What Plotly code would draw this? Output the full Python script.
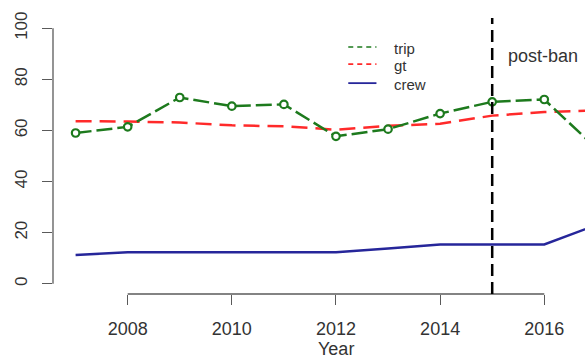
import plotly.graph_objects as go

# Yearly series
years = [2007, 2008, 2009, 2010, 2011, 2012, 2013, 2014, 2015, 2016, 2017]
trip = [59.0, 61.4, 72.9, 69.5, 70.2, 57.7, 60.5, 66.6, 71.2, 72.1, 53.0]
gt = [63.6, 63.5, 63.1, 62.0, 61.6, 60.3, 61.8, 62.6, 65.8, 67.2, 67.8]
crew = [11.3, 12.3, 12.3, 12.3, 12.3, 12.3, 13.8, 15.4, 15.4, 15.4, 23.0]

ban_year = 2015
x_ticks = [2008, 2010, 2012, 2014, 2016]
y_ticks = [0, 20, 40, 60, 80, 100]

GREEN = "#1d7a1d"
RED = "#ff2a2a"
BLUE = "#26269a"
AXIS = "#5a5a5a"
TEXT = "#333333"
FONT = "Liberation Sans, Arial, sans-serif"

fig = go.Figure()

fig.add_trace(go.Scatter(
    x=years, y=gt, mode="lines",
    line=dict(color=RED, width=2.5, dash="16px,8px"),
    showlegend=False, cliponaxis=True))

fig.add_trace(go.Scatter(
    x=years, y=crew, mode="lines",
    line=dict(color=BLUE, width=2.5),
    showlegend=False, cliponaxis=True))

fig.add_trace(go.Scatter(
    x=years, y=trip, mode="lines+markers",
    line=dict(color=GREEN, width=2.5, dash="16px,5px"),
    marker=dict(symbol="circle", size=7.5, color="white",
                line=dict(color=GREEN, width=2.2)),
    showlegend=False, cliponaxis=True))

# R-style axis lines spanning only the tick range
shapes = [
    dict(type="line", xref="x", yref="paper", x0=x_ticks[0], x1=x_ticks[-1],
         y0=0, y1=0, line=dict(color=AXIS, width=1.3)),
    dict(type="line", xref="paper", yref="y", x0=0, x1=0,
         y0=y_ticks[0], y1=y_ticks[-1], line=dict(color=AXIS, width=1.3)),
    # ban marker
    dict(type="line", xref="x", yref="paper", x0=ban_year, x1=ban_year,
         y0=0, y1=1, line=dict(color="black", width=2.5, dash="12px,6px")),
]

# Legend box drawn by hand
legend_items = [("trip", GREEN, "5px,4px", 1.6), ("gt", RED, "5px,4px", 1.6),
                ("crew", BLUE, "solid", 1.8)]
leg_line_y = [0.895, 0.833, 0.764]
leg_text_y = [0.890, 0.828, 0.759]
annotations = []
for (name, col, dash, w), ly, ty in zip(legend_items, leg_line_y, leg_text_y):
    shapes.append(dict(type="line", xref="paper", yref="paper",
                       x0=0.555, x1=0.608, y0=ly, y1=ly,
                       line=dict(color=col, width=w, dash=dash)))
    annotations.append(dict(xref="paper", yref="paper", x=0.637, y=ty,
                            text=name, showarrow=False, xanchor="left",
                            yanchor="middle",
                            font=dict(family=FONT, size=15, color=TEXT)))

annotations.append(dict(xref="x", yref="y", x=ban_year, y=89, xshift=14,
                        text="post-ban", showarrow=False, xanchor="left",
                        yanchor="middle",
                        font=dict(family=FONT, size=18, color=TEXT)))
annotations.append(dict(xref="paper", yref="paper", x=0.532, y=-0.201,
                        text="Year", showarrow=False, xanchor="center",
                        yanchor="middle",
                        font=dict(family=FONT, size=18, color=TEXT)))

fig.update_layout(
    width=585, height=360,
    margin=dict(l=53, r=0, t=18, b=66),
    paper_bgcolor="white", plot_bgcolor="white",
    showlegend=False,
    shapes=shapes, annotations=annotations,
    xaxis=dict(range=[2006.566, 2016.782], tickvals=x_ticks,
               ticks="outside", ticklen=10, tickwidth=1.3, tickcolor=AXIS,
               showgrid=False, zeroline=False, showline=False,
               ticklabelstandoff=8,
               tickfont=dict(family=FONT, size=18, color=TEXT)),
    yaxis=dict(range=[-4, 104], tickvals=y_ticks,
               ticks="outside", ticklen=10, tickwidth=1.3, tickcolor=AXIS,
               showgrid=False, zeroline=False, showline=False,
               tickangle=-90, ticklabelstandoff=8,
               tickfont=dict(family=FONT, size=17, color=TEXT)),
)

fig.write_html("out.html")
